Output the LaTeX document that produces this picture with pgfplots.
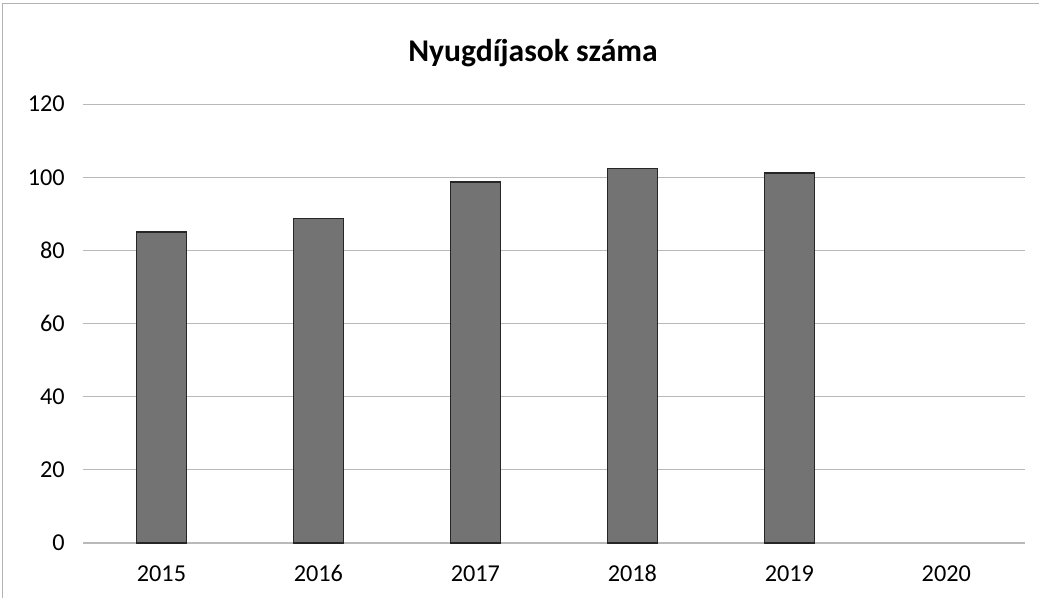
\documentclass[border=0pt]{standalone}
\usepackage{fontspec}
\setmainfont{Carlito}
\usepackage{pgfplots}
\pgfplotsset{compat=1.18}

\begin{document}
\begin{tikzpicture}[x=0.02cm,y=0.02cm]
\path[use as bounding box] (0,0) rectangle (1040,599);
\draw[gray!60, line width=0.4pt] (2,1) -- (2,596) -- (1039,596);
\node[font=\bfseries\fontsize{18}{21}\selectfont, anchor=base] at (533,537) {Nyugdíjasok száma};
\begin{axis}[
    at={(1.66cm,1.12cm)}, anchor=south west,
    scale only axis,
    width=18.84cm, height=8.78cm,
    xmin=-0.5, xmax=5.5,
    ymin=0, ymax=120,
    xtick={0,1,2,3,4,5},
    xticklabels={2015,2016,2017,2018,2019,2020},
    ytick={0,20,...,120},
    axis line style={draw=none},
    major tick length=0pt,
    ymajorgrids,
    grid style={gray!55, line width=0.6pt},
    tick label style={font=\fontsize{13.8}{16}\selectfont},
    /pgf/number format/assume math mode=true,
    xticklabel style={anchor=base, yshift=-0.77cm},
    yticklabel style={anchor=east, inner sep=0pt, xshift=-0.36cm},
    ybar, bar width=1cm,
]
\addplot[fill=black!55, draw=black!85, line width=0.8pt] coordinates {
    (0,85) (1,88.7) (2,98.7) (3,102.4) (4,101.2)
};
\end{axis}
\end{tikzpicture}
\end{document}
